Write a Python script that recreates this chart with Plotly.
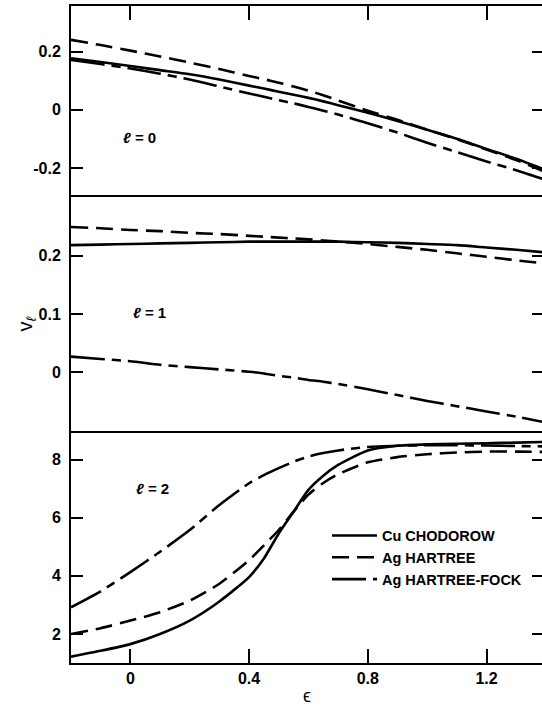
import plotly.graph_objects as go

# ---------------- data ----------------
eps = [-0.2, -0.1, 0.0, 0.1, 0.2, 0.3, 0.4, 0.45, 0.5, 0.55, 0.6, 0.65, 0.7,
       0.8, 0.9, 1.0, 1.1, 1.2, 1.3, 1.39]

# l = 0
v0_cu_chodorow = [0.177, 0.164, 0.150, 0.136, 0.122, 0.104, 0.083, 0.073, 0.062, 0.052,
                  0.041, 0.029, 0.016, -0.010, -0.038, -0.068, -0.099, -0.134, -0.168, -0.203]
v0_ag_hartree = [0.240, 0.222, 0.203, 0.183, 0.162, 0.140, 0.116, 0.105, 0.093, 0.080,
                 0.066, 0.050, 0.032, -0.003, -0.034, -0.068, -0.101, -0.136, -0.172, -0.210]
v0_ag_hf = [0.171, 0.157, 0.142, 0.124, 0.104, 0.080, 0.056, 0.045, 0.033, 0.022,
            0.010, -0.003, -0.016, -0.046, -0.078, -0.113, -0.145, -0.177, -0.207, -0.237]

# l = 1
v1_cu_chodorow = [0.218, 0.219, 0.220, 0.221, 0.222, 0.223, 0.224, 0.224, 0.224, 0.224,
                  0.224, 0.224, 0.224, 0.223, 0.222, 0.220, 0.218, 0.214, 0.210, 0.206]
v1_ag_hartree = [0.249, 0.247, 0.244, 0.242, 0.239, 0.237, 0.234, 0.2325, 0.231, 0.2295,
                 0.228, 0.226, 0.224, 0.220, 0.215, 0.210, 0.204, 0.198, 0.192, 0.187]
v1_ag_hf = [0.027, 0.023, 0.019, 0.013, 0.009, 0.005, 0.001, -0.002, -0.006, -0.009,
            -0.013, -0.016, -0.020, -0.029, -0.039, -0.049, -0.058, -0.067, -0.076, -0.085]

# l = 2
v2_cu_chodorow = [1.22, 1.42, 1.65, 2.00, 2.46, 3.12, 3.96, 4.60, 5.46, 6.21,
                  6.96, 7.45, 7.82, 8.32, 8.48, 8.53, 8.55, 8.57, 8.59, 8.61]
v2_ag_hartree = [2.00, 2.20, 2.46, 2.75, 3.15, 3.73, 4.54, 5.05, 5.58, 6.21,
                 6.80, 7.20, 7.50, 7.91, 8.09, 8.19, 8.25, 8.28, 8.28, 8.27]
v2_ag_hf = [2.92, 3.47, 4.13, 4.83, 5.58, 6.44, 7.19, 7.47, 7.71, 7.93,
            8.11, 8.23, 8.32, 8.44, 8.48, 8.50, 8.50, 8.49, 8.47, 8.46]

series_names = ["Cu CHODOROW", "Ag HARTREE", "Ag HARTREE-FOCK"]
x_ticks = [0, 0.4, 0.8, 1.2]
x_ticktext = ["0", "0.4", "0.8", "1.2"]
y0_ticks = [-0.2, 0, 0.2]
y0_ticktext = ["-0.2", "0", "0.2"]
y1_ticks = [0, 0.1, 0.2]
y1_ticktext = ["0", "0.1", "0.2"]
y2_ticks = [2, 4, 6, 8]
y2_ticktext = ["2", "4", "6", "8"]
panel_labels = ["<i>ℓ</i> = 0", "<i>ℓ</i> = 1", "<i>ℓ</i> = 2"]

# ---------------- styling ----------------
FONT = "Liberation Sans"
dashes = ["solid", "17px,8px", "34px,7px,9px,7px"]
LW = 2.6

fig = go.Figure()

panels = [
    ("x", "y", [v0_cu_chodorow, v0_ag_hartree, v0_ag_hf]),
    ("x2", "y2", [v1_cu_chodorow, v1_ag_hartree, v1_ag_hf]),
    ("x3", "y3", [v2_cu_chodorow, v2_ag_hartree, v2_ag_hf]),
]
for pi, (xa, ya, ser) in enumerate(panels):
    for si, vals in enumerate(ser):
        fig.add_trace(go.Scatter(
            x=eps, y=vals, xaxis=xa, yaxis=ya, mode="lines",
            line=dict(color="black", width=LW, dash=dashes[si], shape="spline", smoothing=0.6),
            name=series_names[si], showlegend=(pi == 2), hoverinfo="skip",
        ))

# empty traces so that the right-hand tick axes are rendered
for xa, ya in [("x", "y4"), ("x2", "y5"), ("x3", "y6")]:
    fig.add_trace(go.Scatter(x=[], y=[], xaxis=xa, yaxis=ya, mode="lines",
                             showlegend=False, hoverinfo="skip"))

XR = [-0.2, 1.387]
d1 = [0.7088, 1.0]
d2 = [0.3536, 0.7088]
d3 = [0.0, 0.3536]
tickfont = dict(family=FONT, size=16, color="black", weight="bold")

common_x = dict(range=XR, showgrid=False, zeroline=False, showline=True, linecolor="black",
                linewidth=1.8, tickvals=x_ticks, ticktext=x_ticktext,
                ticklen=14, tickwidth=2, tickcolor="black", tickfont=tickfont)
common_y = dict(showgrid=False, zeroline=False, showline=True, linecolor="black",
                linewidth=2, ticks="inside", ticklen=12, tickwidth=2, tickcolor="black",
                tickfont=tickfont, ticklabelstandoff=5, mirror=False)
right_y = dict(showgrid=False, zeroline=False, showline=False, ticks="inside", ticklen=10,
               tickwidth=2, tickcolor="black", showticklabels=False, side="right")

fig.update_layout(
    width=542, height=708,
    margin=dict(l=71, r=0, t=6, b=45),
    paper_bgcolor="white", plot_bgcolor="white",
    xaxis=dict(common_x, anchor="y", side="top", ticks="inside", showticklabels=False,
               mirror=False),
    xaxis2=dict(common_x, anchor="y2", ticks="", showticklabels=False, mirror=True),
    xaxis3=dict(common_x, anchor="y3", ticks="inside", mirror=False),
    yaxis=dict(common_y, domain=d1, anchor="x", range=[-0.3, 0.356],
               tickvals=y0_ticks, ticktext=y0_ticktext),
    yaxis2=dict(common_y, domain=d2, anchor="x2", range=[-0.1, 0.3],
                tickvals=y1_ticks, ticktext=y1_ticktext),
    yaxis3=dict(common_y, domain=d3, anchor="x3", range=[1, 9],
                tickvals=y2_ticks, ticktext=y2_ticktext),
    yaxis4=dict(right_y, overlaying="y", anchor="x", range=[-0.3, 0.356], tickvals=y0_ticks),
    yaxis5=dict(right_y, overlaying="y2", anchor="x2", range=[-0.1, 0.3], tickvals=y1_ticks),
    yaxis6=dict(right_y, overlaying="y3", anchor="x3", range=[1, 9], tickvals=y2_ticks),
    legend=dict(x=0.5435, y=0.2184, xanchor="left", yanchor="top",
                bgcolor="rgba(0,0,0,0)", borderwidth=0, itemwidth=45,
                font=dict(family=FONT, size=14.5, color="black", weight="bold"),
                tracegroupgap=0),
    showlegend=True,
)

ann_font = dict(family=FONT, size=15, color="black", weight="bold")
fig.add_annotation(x=0.03, y=-0.095, xref="x", yref="y", text=panel_labels[0],
                   showarrow=False, font=ann_font)
fig.add_annotation(x=0.065, y=0.1026, xref="x2", yref="y2", text=panel_labels[1],
                   showarrow=False, font=ann_font)
fig.add_annotation(x=0.076, y=7.0, xref="x3", yref="y3", text=panel_labels[2],
                   showarrow=False, font=ann_font)
# axis titles
fig.add_annotation(x=-0.095, y=0.5155, xref="paper", yref="paper", xanchor="center",
                   yanchor="middle", text="v<sub><i>ℓ</i></sub>", textangle=-90,
                   showarrow=False, font=dict(family=FONT, size=20, color="black"))
fig.add_annotation(x=0.5, y=-0.05, xref="paper", yref="paper", xanchor="center",
                   yanchor="middle", text="ϵ", showarrow=False,
                   font=dict(family=FONT, size=18, color="black"))

fig.write_html("out.html", config={"displayModeBar": False},
               post_script="document.body.style.margin='0px';")
